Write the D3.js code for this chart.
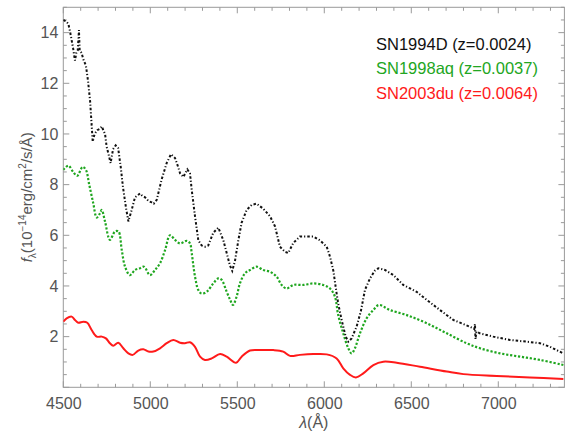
<!DOCTYPE html>
<html>
<head>
<meta charset="utf-8">
<script src="https://cdn.jsdelivr.net/npm/d3@7"></script>
<style>
  body { margin: 0; background: #fff; }
  svg { display: block; font-family: "Liberation Sans", Arial, sans-serif; }
</style>
</head>
<body>
<svg id="chart" width="566" height="434"></svg>
<script>
// ---- Data ----
const seriesNames = ["SN1994D (z=0.0024)", "SN1998aq (z=0.0037)", "SN2003du (z=0.0064)"];

const wlBlack = [4500,4515,4529,4540,4556,4567,4575,4583,4590,4594,4605,4615,4630,4642,4654,4669,4680,4695,4710,4721,4730,4740,4749,4760,4772,4786,4801,4815,4830,4843,4860,4874,4893,4912,4941,4955,4970,4990,5008,5020,5037,5065,5094,5119,5142,5160,5171,5190,5213,5228,5238,5257,5276,5295,5315,5333,5362,5391,5420,5439,5458,5471,5487,5506,5525,5554,5583,5611,5649,5688,5717,5745,5774,5793,5822,5860,5899,5937,5975,6014,6033,6052,6071,6080,6100,6123,6138,6157,6186,6210,6234,6263,6290,6311,6349,6397,6454,6531,6589,6665,6741,6837,6862,6866,6869,6874,6894,6971,7067,7163,7240,7297,7374];
const fBlack = [14.5,14.45,14.35,14.0,13.4,12.9,13.2,13.3,14.1,13.3,13.2,12.95,12.7,12.1,11.3,9.7,10.0,10.15,10.2,10.3,10.15,10.0,9.5,9.2,8.85,9.4,9.55,9.45,8.7,7.9,7.1,6.55,7.0,7.5,7.65,7.55,7.5,7.35,7.3,7.25,7.4,8.2,8.85,9.2,9.05,8.7,8.45,8.3,8.6,8.45,7.8,6.75,5.8,5.6,5.55,5.6,6.1,6.3,5.8,5.3,4.8,4.6,5.0,5.8,6.5,7.0,7.2,7.25,7.05,6.75,6.35,5.55,5.35,5.3,5.7,5.95,5.95,5.95,5.8,5.55,5.15,4.6,3.7,3.3,2.65,2.0,1.8,1.93,2.4,3.0,3.85,4.3,4.6,4.7,4.63,4.43,4.04,3.77,3.45,3.05,2.66,2.39,2.3,2.5,1.9,2.2,2.13,2.0,1.87,1.8,1.74,1.6,1.34];

const wlGreen = [4500,4529,4557,4580,4611,4630,4649,4672,4692,4711,4721,4740,4768,4797,4817,4836,4855,4883,4912,4941,4964,4998,5027,5056,5085,5113,5142,5171,5209,5228,5238,5257,5276,5295,5324,5362,5391,5410,5439,5458,5475,5496,5515,5544,5573,5611,5649,5688,5726,5755,5784,5822,5879,5937,5994,6033,6061,6080,6109,6138,6157,6176,6205,6243,6282,6314,6377,6474,6589,6704,6818,6895,7010,7125,7240,7374];
const fGreen = [8.58,8.75,8.5,8.35,8.7,8.58,8.0,7.27,6.7,6.87,7.0,6.54,5.82,6.15,6.15,5.42,4.76,4.43,4.63,4.7,4.76,4.43,4.63,4.9,5.42,6.0,5.82,5.68,5.78,5.68,5.3,4.37,3.84,3.7,3.77,4.1,4.3,4.24,3.77,3.47,3.25,3.58,4.1,4.5,4.63,4.76,4.63,4.56,4.37,4.04,3.9,4.04,4.04,4.1,4.04,3.9,3.58,2.85,2.13,1.54,1.34,1.54,2.13,2.72,3.05,3.25,3.05,2.85,2.53,2.13,1.74,1.54,1.34,1.21,1.08,0.88];

const wlRed = [4500,4519,4548,4567,4586,4615,4638,4663,4692,4721,4745,4768,4787,4816,4845,4874,4899,4931,4960,4989,5017,5056,5094,5132,5171,5199,5228,5257,5286,5314,5353,5401,5439,5493,5525,5573,5630,5707,5764,5803,5860,5937,6014,6071,6109,6148,6182,6224,6282,6339,6416,6550,6704,6799,6991,7182,7374];
const fRed = [2.59,2.72,2.79,2.66,2.55,2.59,2.55,2.26,2.0,2.0,1.93,1.74,1.64,1.76,1.54,1.34,1.28,1.45,1.5,1.41,1.41,1.54,1.74,1.87,1.76,1.74,1.78,1.6,1.21,1.08,1.14,1.31,1.21,0.97,1.21,1.45,1.47,1.47,1.41,1.24,1.28,1.31,1.30,1.14,0.75,0.49,0.39,0.55,0.88,1.01,0.97,0.81,0.62,0.52,0.45,0.39,0.33];

const xTicks = [4500,5000,5500,6000,6500,7000];
const yTicks = [2,4,6,8,10,12,14];

// ---- Layout ----
const svg = d3.select("#chart");
const L = 63.3, R = 564.4, T = 7.3, B = 387.3;
const x = d3.scaleLinear().domain([4500, 7380]).range([L, R]);
const y = d3.scaleLinear().domain([0, 15]).range([B, T]);

const frameColor = "#9a9a9a";
const labelColor = "#555555";

// frame
svg.append("rect").attr("x", L).attr("y", T).attr("width", R - L).attr("height", B - T)
  .attr("fill", "none").attr("stroke", frameColor).attr("stroke-width", 1);

// ticks (inward)
const xMinor = d3.range(4500, 7381, 100);
const yMinor = d3.range(0, 15.01, 0.5);
const tickG = svg.append("g").attr("stroke", frameColor).attr("stroke-width", 1);
xMinor.forEach(v => {
  const major = v % 500 === 0;
  const len = major ? 6 : 3.5;
  tickG.append("line").attr("x1", x(v)).attr("x2", x(v)).attr("y1", B).attr("y2", B - len);
  tickG.append("line").attr("x1", x(v)).attr("x2", x(v)).attr("y1", T).attr("y2", T + len);
});
yMinor.forEach(v => {
  const major = Math.abs(v % 2) < 1e-9;
  const len = major ? 6 : 3.5;
  tickG.append("line").attr("y1", y(v)).attr("y2", y(v)).attr("x1", L).attr("x2", L + len);
  tickG.append("line").attr("y1", y(v)).attr("y2", y(v)).attr("x1", R).attr("x2", R - len);
});

// tick labels via d3 axes (lines hidden)
const xAxis = d3.axisBottom(x).tickValues(xTicks).tickSize(0).tickPadding(10).tickFormat(d3.format("d"));
const gx = svg.append("g").attr("transform", `translate(0,${B})`).call(xAxis);
gx.select(".domain").remove();
gx.selectAll("text").attr("fill", labelColor).attr("font-size", "16px")
  .attr("font-family", "Liberation Sans, Arial, sans-serif");

const yAxis = d3.axisLeft(y).tickValues(yTicks).tickSize(0).tickPadding(5).tickFormat(d3.format("d"));
const gy = svg.append("g").attr("transform", `translate(${L},0)`).call(yAxis);
gy.select(".domain").remove();
gy.selectAll("text").attr("fill", labelColor).attr("font-size", "16px")
  .attr("font-family", "Liberation Sans, Arial, sans-serif");

// clip
svg.append("clipPath").attr("id", "clip").append("rect")
  .attr("x", L).attr("y", T).attr("width", R - L).attr("height", B - T);

const plot = svg.append("g").attr("clip-path", "url(#clip)");

function pts(wl, f) { return wl.map((w, i) => [w, f[i]]); }

const lineLin = d3.line().x(d => x(d[0])).y(d => y(d[1]));
const lineSmooth = d3.line().x(d => x(d[0])).y(d => y(d[1])).curve(d3.curveCatmullRom.alpha(0.5));

plot.append("path").datum(pts(wlRed, fRed)).attr("d", lineSmooth)
  .attr("fill", "none").attr("stroke", "#ff1a1a").attr("stroke-width", 2);

plot.append("path").datum(pts(wlGreen, fGreen)).attr("d", lineSmooth)
  .attr("fill", "none").attr("stroke", "#1fa61f").attr("stroke-width", 2.2)
  .attr("stroke-dasharray", "2.2,1.8");

plot.append("path").datum(pts(wlBlack, fBlack)).attr("d", lineLin)
  .attr("fill", "none").attr("stroke", "#111").attr("stroke-width", 2)
  .attr("stroke-dasharray", "2.5,2,1.2,2");

// legend
const legColors = ["#111111", "#22a622", "#ff1a1a"];
const legY = [49.5, 74, 98.5];
seriesNames.forEach((n, i) => {
  svg.append("text").attr("x", 376).attr("y", legY[i]).attr("fill", legColors[i])
    .attr("font-size", "16.5px").text(n);
});

// axis titles
const xt = svg.append("text").attr("x", (L + R) / 2).attr("y", 428).attr("text-anchor", "middle")
  .attr("fill", labelColor).attr("font-size", "16px");
xt.append("tspan").attr("font-style", "italic").text("λ");
xt.append("tspan").text("(Å)");

const yt = svg.append("text").attr("transform", `translate(32,${(T + B) / 2}) rotate(-90)`)
  .attr("text-anchor", "middle").attr("fill", labelColor).attr("font-size", "15px");
yt.append("tspan").attr("font-style", "italic").text("f");
yt.append("tspan").attr("font-size", "10px").attr("dy", 4).text("λ");
yt.append("tspan").attr("dy", -4).text("(10");
yt.append("tspan").attr("font-size", "10px").attr("dy", -6).text("−14");
yt.append("tspan").attr("dy", 6).text("erg/cm");
yt.append("tspan").attr("font-size", "10px").attr("dy", -6).text("2");
yt.append("tspan").attr("dy", 6).text("/s/Å)");
</script>
</body>
</html>
